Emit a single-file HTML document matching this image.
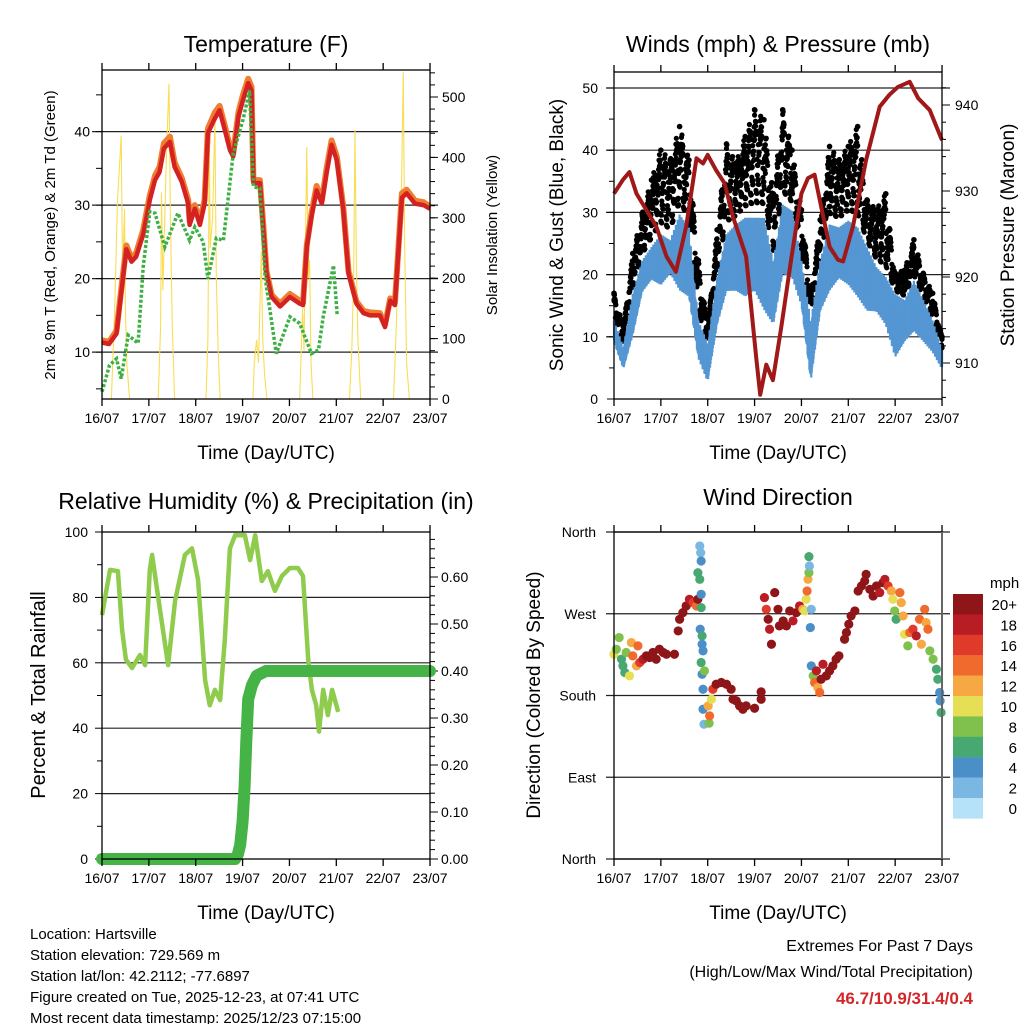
<!DOCTYPE html>
<html><head><meta charset="utf-8"><style>
html,body{margin:0;padding:0;background:#fff;width:1024px;height:1024px;overflow:hidden}
svg{display:block;font-family:"Liberation Sans",Arial,sans-serif}
</style></head><body>
<svg id="chart" width="1024" height="1024" viewBox="0 0 1024 1024" xmlns="http://www.w3.org/2000/svg"></svg>
<script>
// ---------- DATA ----------
const dayLabels = ["16/07","17/07","18/07","19/07","20/07","21/07","22/07","23/07"];
const tTemp = [0,0.15,0.31,0.41,0.52,0.63,0.73,0.88,1.02,1.13,1.23,1.32,1.45,1.55,1.7,1.84,1.87,1.98,2.09,2.19,2.26,2.41,2.51,2.62,2.73,2.8,2.91,3.01,3.12,3.19,3.23,3.37,3.44,3.51,3.62,3.8,4.01,4.22,4.29,4.37,4.47,4.58,4.69,4.79,4.9,5.01,5.15,5.26,5.43,5.58,5.72,5.93,6.04,6.15,6.25,6.4,6.5,6.68,6.86,7.0];
const temp2m = [11.3,11.1,12.5,18,24,22.3,23,26,30.7,33.4,34.5,37.7,38.6,35.2,33.2,30.2,27.3,29.5,27.3,30.2,39.8,41.8,42.9,40.2,37.5,36.6,42,44.3,46.6,45.6,33,33,27,20.7,17.5,16.2,17.5,16.6,16.4,24.3,28.4,32,30.2,34.3,38.2,36.1,29.3,20.7,16.6,15.3,15,15,13.4,17,16.4,31,31.6,30.2,30,29.5];
const temp9m = [11.6,11.4,12.9,18.5,24.5,22.8,23.5,26.6,31.3,34,35.2,38.4,39.3,35.8,33.7,30.7,27.8,30,27.8,30.7,40.4,42.6,43.5,40.8,38,37,42.6,45,47.2,46.1,33.4,33.4,27.4,21,17.8,16.6,17.9,17,16.7,24.6,28.9,32.6,30.6,34.9,38.8,36.6,29.7,21,16.9,15.6,15.4,15.3,13.7,17.3,16.7,31.6,32.1,30.6,30.4,29.8];
const tDew = [0,0.16,0.31,0.41,0.56,0.77,0.88,1.02,1.13,1.34,1.62,1.87,1.98,2.16,2.26,2.44,2.59,2.8,3.01,3.15,3.23,3.37,3.48,3.72,4.01,4.22,4.47,4.62,4.72,4.94,5.02];
const dew2m = [4.6,8.2,9.1,6.4,12.3,11.2,21.6,29.1,28.9,24.3,28.9,25.2,27,25,20,25.5,25.2,37,41.6,45.6,32.5,32.3,20.2,9.8,14.8,13.9,9.8,10.3,14.8,21.8,15];
const tSolar = [0.2,0.27,0.33,0.37,0.41,0.44,0.48,0.5,0.53,0.59, 1.2,1.25,1.27,1.3,1.34,1.38,1.43,1.46,1.5,1.55, 2.22,2.26,2.29,2.31,2.36,2.41,2.44,2.48,2.52, 3.22,3.25,3.3,3.34,3.37,3.4,3.43,3.47,3.52, 4.22,4.28,4.31,4.35,4.37,4.4,4.43,4.46,4.5, 5.28,5.33,5.37,5.4,5.43,5.46,5.52, 6.22,6.28,6.33,6.38,6.43,6.46,6.5,6.56];
const solar = [0,150,330,380,436,200,314,150,60,0, 0,120,342,180,300,420,522,300,120,0, 0,100,420,250,300,464,200,80,0, 0,60,98,60,150,245,100,40,0, 0,150,80,300,417,200,230,60,0, 0,80,200,445,220,100,0, 0,120,250,300,541,250,60,0];
const tWind = [0,0.2,0.4,0.6,0.8,1.0,1.2,1.4,1.6,1.8,2.0,2.2,2.4,2.6,2.8,3.0,3.2,3.4,3.6,3.8,4.0,4.2,4.4,4.6,4.8,5.0,5.2,5.4,5.6,5.8,6.0,6.2,6.4,6.6,6.8,7.0];
const gustMax = [17,11.6,23.4,29.8,35.2,40,38.4,43.8,38.4,22.3,11.6,27.2,41,37.9,42.2,46.5,44.9,33,46.5,40,30.4,17,28.8,40.6,38.4,40.6,43.8,32,30.4,33,20.2,20.7,25.6,20.2,17,10];
const sonicHigh = [12.7,8.4,17,22.3,24.5,26.6,25.6,29.8,27.7,12.7,9,19.7,26.6,28.2,29.3,29.3,29.3,22.3,31.4,30.4,22.3,12.7,22.3,28.2,27.7,28.8,27.7,24.5,21.3,19.7,17,16,19.1,16,12.7,7.9];
const sonicLow = [9,4.7,10,17,19,18,20,17,16,6.3,2.5,11.6,17,17,16,17,13.8,11.6,19.7,19.1,14.8,2.5,13.8,17,19.1,18,16,13.8,13.8,11.6,6.3,9,10.6,9,7.3,4.7];
const tPres = [0,0.19,0.33,0.48,0.69,0.9,1.12,1.32,1.54,1.76,1.9,2.0,2.18,2.36,2.54,2.82,3.04,3.12,3.25,3.39,3.57,3.78,4.0,4.14,4.28,4.39,4.6,4.78,4.89,5.1,5.38,5.67,5.88,6.06,6.31,6.49,6.74,7.0];
const pressure = [929.7,931.3,932.2,929.7,927.8,925.9,922.4,920.6,925.9,933.8,933.2,934.2,932.4,930.9,927,922.4,910.3,906.3,909.8,908,914.2,922,929.7,931.5,931.9,929,923.5,922,921.8,925.9,933.6,939.8,941.2,942.1,942.7,940.8,939.4,935.9];
const tRH = [0,0.17,0.34,0.43,0.51,0.64,0.81,0.92,1.02,1.07,1.24,1.41,1.56,1.77,1.92,2.05,2.2,2.3,2.41,2.52,2.62,2.73,2.84,3.05,3.16,3.27,3.41,3.54,3.69,3.84,4.01,4.18,4.29,4.4,4.48,4.57,4.63,4.72,4.82,4.91,5.04];
const rh = [74.6,88.4,88,70,61,58.4,62.4,59.3,88.4,93,76,59.3,79,93,95,85.3,54.7,47,51.7,48.6,67,95,99,99,91.4,99,85,88,82,86.5,89,89,86.5,61,51.7,47,39,51.7,44,51.7,45];
const tPrecip = [0,1,2,2.84,2.9,2.95,3.0,3.04,3.08,3.12,3.2,3.3,3.5,4,5,6,7];
const precip = [0,0,0,0,0.01,0.03,0.08,0.15,0.25,0.34,0.37,0.39,0.4,0.4,0.4,0.4,0.4];
const tDir = [0,0.05,0.11,0.16,0.19,0.23,0.26,0.33,0.37,0.4,0.48,0.51,0.55,0.62,0.69,0.76,0.83,0.9,0.97,1.05,1.12,1.29,
1.37,1.4,1.47,1.54,1.61,1.69,1.76,1.79,
1.83,1.85,1.86,1.79,1.83,1.86,1.86,1.84,1.88,1.88,1.9,1.86,1.88,1.93,1.9,1.9,1.92,2.03,
2.01,2.04,2.08,2.11,2.18,2.29,2.4,2.5,2.54,2.61,2.68,2.75,2.82,3.0,3.14,3.14,
3.21,3.25,3.29,3.32,3.36,3.43,3.5,3.53,3.61,3.68,3.75,3.82,3.89,3.96,4.03,4.07,4.1,4.12,4.14,4.16,4.17,4.16,4.21,4.19,
4.21,4.25,4.28,4.32,4.35,4.39,4.42,4.46,4.53,4.6,4.67,4.74,4.8,
4.92,4.96,5.01,5.06,5.14,
5.21,5.28,5.35,5.38,5.46,5.53,5.6,5.67,5.74,5.78,5.85,5.92,5.95,5.99,6.02,6.1,6.13,6.17,6.2,6.27,6.31,6.38,6.45,6.52,6.56,6.63,6.66,6.7,6.74,6.81,6.88,6.91,6.95,6.96,6.98];
const dirDeg = [225.4,230.9,243.8,220,212.6,205.3,227.3,201.6,238.3,223.6,212.6,234.6,216.3,219.9,223.6,221.8,227.3,219.9,230.9,227.3,225.4,225.4,
251.1,263.9,271.3,278.6,285.9,282.3,278.6,285.9,
344.6,337.2,328.1,315.2,307.9,291.4,276.8,252.9,245.6,236.4,229.1,216.3,203.4,207.1,186.9,164.9,148.4,149.5,
168.6,157.6,175.9,186.9,192.4,194.3,192.4,186.9,175.9,174.1,168.6,164.9,168.6,166,175.9,184,
287.8,274.9,263.9,252.9,236.4,293.3,274.9,256.6,262.1,256.6,273.1,262.1,271.3,278.6,274.9,273.1,285.9,295.1,307.9,315.3,322.6,332.9,274.9,254.8,
212.6,201.6,194.3,207.1,188.8,183.3,197.9,214.4,201.6,207.1,212.6,219.9,223.6,
241.9,249.3,258.4,267.6,273.1,
295.1,300.6,306.1,313.4,296.9,289.6,300.6,293.3,304.3,307.9,300.6,295.1,285.9,273.1,263.9,293.3,282.3,267.6,247.4,234.6,249.3,252.9,245.6,263.9,236.4,274.9,260.3,252.9,229.1,219.9,208.9,197.9,183.3,174.1,161.3];
const dirSpeed = [10,9,8,7,6,6,8,10,12,14,13,14,16,18,20,20,20,20,20,20,20,20,
20,20,20,20,18,16,14,20,
2,3,4,6,6,4,7,4,7,4,4,6,4,8,4,4,3,8,
12,14,10,16,20,20,20,20,20,20,20,20,20,20,20,20,
18,16,20,18,20,20,20,20,20,20,20,18,20,18,12,10,11,14,12,8,3,6,3,4,
4,8,14,18,12,14,20,18,20,20,20,20,20,
20,20,20,20,20,
20,20,20,20,20,20,20,18,20,18,16,12,10,8,6,14,12,12,10,8,14,16,18,14,12,14,12,14,8,8,6,7,5,4,6];
const cbLabels = ["20+","18","16","14","12","10","8","6","4","2","0"];
const cbColors = ["#8e1518","#b81c24","#df3a2a","#ef6a2c","#f6a843","#e6df55","#80c14d","#48a872","#4a8fc8","#7ab7e3","#b5e2f8"];

// ---------- HELPERS ----------
const svg = document.getElementById('chart');
const NS = 'http://www.w3.org/2000/svg';
function mk(tag, attrs, parent){ const e=document.createElementNS(NS,tag); for(const k in attrs) e.setAttribute(k,attrs[k]); (parent||svg).appendChild(e); return e; }
function txt(x,y,s,size,anchor,extra){ const e=mk('text',Object.assign({x:x,y:y,'font-size':size,'text-anchor':anchor||'middle',fill:'#000'},extra||{})); e.textContent=s; return e; }
function pathD(xs,ys){ return xs.map((x,i)=>(i?'L':'M')+x.toFixed(1)+' '+ys[i].toFixed(1)).join(''); }
function interp(ts,vs,t){ for(let i=1;i<ts.length;i++){ if(t<=ts[i]){ const f=(t-ts[i-1])/(ts[i]-ts[i-1]); return vs[i-1]+f*(vs[i]-vs[i-1]); } } return vs[vs.length-1]; }

const xL = t => 102 + 46.86*t;
const xR = t => 614 + 46.86*t;
const yTemp = v => 425.6 - 7.35*v;
const ySolar = s => 399 - 0.604*s;
const yWind = v => 399 - 6.22*v;
const yPres = p => 363 - 8.6*(p-910);
const yRH = r => 859 - 3.27*r;
const yPrecip = p => 859 - 470*p;
const yDir = d => 859 - (327/360)*d;

function frame(x0,x1,y0,y1,name){
  const g=mk('g',{});
  
  
  mk('rect',{x:x0,y:y0,width:x1-x0,height:y1-y0,fill:'none',stroke:'#000','stroke-width':1.3},g);
  for(let i=0;i<=7;i++){ const x=x0+46.86*i;
    mk('line',{x1:x,x2:x,y1:y1,y2:y1+7,stroke:'#000','stroke-width':1.3},g);
    mk('line',{x1:x,x2:x,y1:y0,y2:y0-7,stroke:'#000','stroke-width':1.3},g);
    const l=txt(x,y1+24,dayLabels[i],14,'middle');
    
     }
  return g;
}
function hgrid(x0,x1,y,name){ const l=mk('line',{x1:x0,x2:x1,y1:y,y2:y,stroke:'#222','stroke-width':1.2});   }
function rotText(x,y,s,size,name){ const e=txt(x,y,s,size,'middle',{transform:'rotate(-90 '+x+' '+y+')'});   }

let e;
// ---------- PANEL 1 ----------
e=txt(266,52,'Temperature (F)',23);  
[10,20,30,40].forEach(v=>{ hgrid(92,438,yTemp(v),'temp-gridline'); const l=txt(90,yTemp(v)+5,String(v),14,'end');   });
for(let v=5;v<=45;v+=5) mk('line',{x1:102,x2:96,y1:yTemp(v),y2:yTemp(v),stroke:'#000'});
[0,100,200,300,400,500].forEach(v=>{ mk('line',{x1:430,x2:438,y1:ySolar(v),y2:ySolar(v),stroke:'#000'}); const l=txt(442,ySolar(v)+5,String(v),14,'start');   });
for(let v=20;v<=540;v+=20) mk('line',{x1:430,x2:435,y1:ySolar(v),y2:ySolar(v),stroke:'#000'});
e=mk('path',{d:pathD(tSolar.map(xL),solar.map(ySolar)),fill:'none',stroke:'#f8dd55','stroke-width':1.1});
 
e=mk('path',{d:pathD(tTemp.map(xL),temp9m.map(yTemp)),fill:'none',stroke:'#f07d30','stroke-width':6,'stroke-linejoin':'round'});
 
e=mk('path',{d:pathD(tTemp.map(xL),temp2m.map(yTemp)),fill:'none',stroke:'#d42222','stroke-width':4.5,'stroke-linejoin':'round'});
 
e=mk('path',{d:pathD(tDew.map(xL),dew2m.map(yTemp)),fill:'none',stroke:'#3cb043','stroke-width':3.5,'stroke-dasharray':'3 2'});
 
frame(102,430,70,399,'temperature-frame');
rotText(55,235,'2m & 9m T (Red, Orange) & 2m Td (Green)',15,'temp-y-axis-title');
rotText(497,235,'Solar Insolation (Yellow)',15,'solar-y-axis-title');
e=txt(266,459,'Time (Day/UTC)',19);  

// ---------- PANEL 2 ----------
e=txt(778,52,'Winds (mph) & Pressure (mb)',23);  
[10,20,30,40,50].forEach(v=>hgrid(606,950,yWind(v),'wind-gridline'));
[0,10,20,30,40,50].forEach(v=>{ mk('line',{x1:614,x2:607,y1:yWind(v),y2:yWind(v),stroke:'#000'}); const l=txt(598,yWind(v)+5,String(v),14,'end');   });
for(let v=5;v<=50;v+=5) mk('line',{x1:614,x2:609,y1:yWind(v),y2:yWind(v),stroke:'#000'});
[910,920,930,940].forEach(v=>{ mk('line',{x1:942,x2:950,y1:yPres(v),y2:yPres(v),stroke:'#000'}); const l=txt(955,yPres(v)+5,String(v),14,'start');   });
for(let v=906;v<=943;v+=2) mk('line',{x1:942,x2:946,y1:yPres(v),y2:yPres(v),stroke:'#000'});
// gust dots (black) and sonic spikes (blue), sampled along the data arrays
const gustG=mk('g',{});


const sonicG=mk('g',{});


const fr=[0.95,0.55,0.8,0.25,0.7,1.0,0.4,0.85,0.15,0.6,0.9,0.35];
for(let k=0;k<=700;k++){
  const t=k/100, g=interp(tWind,gustMax,t), h=interp(tWind,sonicHigh,t), lo=interp(tWind,sonicLow,t);
  for(let j=0;j<3;j++){ const f=fr[(k*5+j*7)%fr.length]; const v=h+(g-h)*f*(j==0?1:0.9);
    mk('circle',{cx:xR(t),cy:yWind(v),r:2.6,fill:'#000'},gustG); }
  const f2=fr[(k*3)%fr.length];
  mk('line',{x1:xR(t),x2:xR(t),y1:yWind(lo+(h-lo)*0.15*f2),y2:yWind(h-(h-lo)*0.25*(1-f2)),stroke:'#5597d3','stroke-width':2.2},sonicG);
}
tWind.forEach((t,i)=>{ const c=mk('circle',{cx:xR(t),cy:yWind(gustMax[i]),r:2.8,fill:'#000'},gustG);

 });
svg.appendChild(sonicG);
e=mk('path',{d:pathD(tPres.map(xR),pressure.map(yPres)),fill:'none',stroke:'#a01818','stroke-width':4,'stroke-linejoin':'round'});
 
frame(614,942,72,399,'winds-frame');
rotText(563,235,'Sonic Wind & Gust (Blue, Black)',19,'wind-y-axis-title');
rotText(1014,235,'Station Pressure (Maroon)',19,'pressure-y-axis-title');
e=txt(778,459,'Time (Day/UTC)',19);  

// ---------- PANEL 3 ----------
e=txt(266,509,'Relative Humidity (%) & Precipitation (in)',23);  
[20,40,60,80].forEach(v=>hgrid(102,430,yRH(v),'rh-gridline'));
[0,20,40,60,80,100].forEach(v=>{ mk('line',{x1:102,x2:95,y1:yRH(v),y2:yRH(v),stroke:'#000'}); const l=txt(88,yRH(v)+5,String(v),14,'end');   });
for(let v=10;v<=90;v+=20) mk('line',{x1:102,x2:97,y1:yRH(v),y2:yRH(v),stroke:'#000'});
[0,0.1,0.2,0.3,0.4,0.5,0.6].forEach(v=>{ mk('line',{x1:430,x2:438,y1:yPrecip(v),y2:yPrecip(v),stroke:'#000'}); const l=txt(441,yPrecip(v)+5,v.toFixed(2),14,'start');   });
for(let v=0.02;v<=0.69;v+=0.02) mk('line',{x1:430,x2:435,y1:yPrecip(v),y2:yPrecip(v),stroke:'#000'});
e=mk('path',{d:pathD(tRH.map(xL),rh.map(yRH)),fill:'none',stroke:'#8fcb4c','stroke-width':4.5,'stroke-linejoin':'round'});
 
e=mk('path',{d:pathD(tPrecip.map(xL),precip.map(yPrecip)),fill:'none',stroke:'#46b347','stroke-width':12,'stroke-linejoin':'round','stroke-linecap':'round'});
 
frame(102,430,532,859,'humidity-frame');
rotText(45,695,'Percent & Total Rainfall',20,'rh-y-axis-title');
e=txt(266,919,'Time (Day/UTC)',19);  

// ---------- PANEL 4 ----------
e=txt(778,505,'Wind Direction',23);  
const dirTicks=[[360,'North'],[270,'West'],[180,'South'],[90,'East'],[0,'North']];
dirTicks.forEach(d=>{ hgrid(606,950,yDir(d[0]),'direction-gridline'); const l=txt(596,yDir(d[0])+5,d[1],14,'end');   });
function spdColor(s){ const idx=Math.min(10,Math.floor(s/2)); return cbColors[10-idx]; }
tDir.forEach((t,i)=>{ const c=mk('circle',{cx:xR(t),cy:yDir(dirDeg[i]),r:4.6,fill:spdColor(dirSpeed[i])});

 });
frame(614,942,532,859,'direction-frame');
mk('line',{x1:942,x2:942,y1:532,y2:859,stroke:'#666','stroke-width':2});
rotText(540,695,'Direction (Colored By Speed)',19,'direction-y-axis-title');
e=txt(778,919,'Time (Day/UTC)',19);  
const cb=mk('g',{});


cbColors.forEach((c,i)=>{ mk('rect',{x:953,y:594+i*20.4,width:30,height:20.6,fill:c},cb); const l=txt(1017,594+i*20.4+16,cbLabels[i],15,'end');   });
e=txt(990,588,'mph',15,'start');  

// ---------- Footer ----------
const info=["Location: Hartsville","Station elevation: 729.569 m","Station lat/lon: 42.2112; -77.6897","Figure created on Tue, 2025-12-23, at 07:41 UTC","Most recent data timestamp: 2025/12/23 07:15:00"];
info.forEach((s,i)=>{ const l=txt(30,939+i*21,s,15,'start');   });
e=txt(973,951,'Extremes For Past 7 Days',16,'end');  
e=txt(973,977,'(High/Low/Max Wind/Total Precipitation)',16,'end');  
e=txt(973,1004,'46.7/10.9/31.4/0.4',17,'end',{fill:'#d0282a','font-weight':'bold'});  
</script>
</body></html>
